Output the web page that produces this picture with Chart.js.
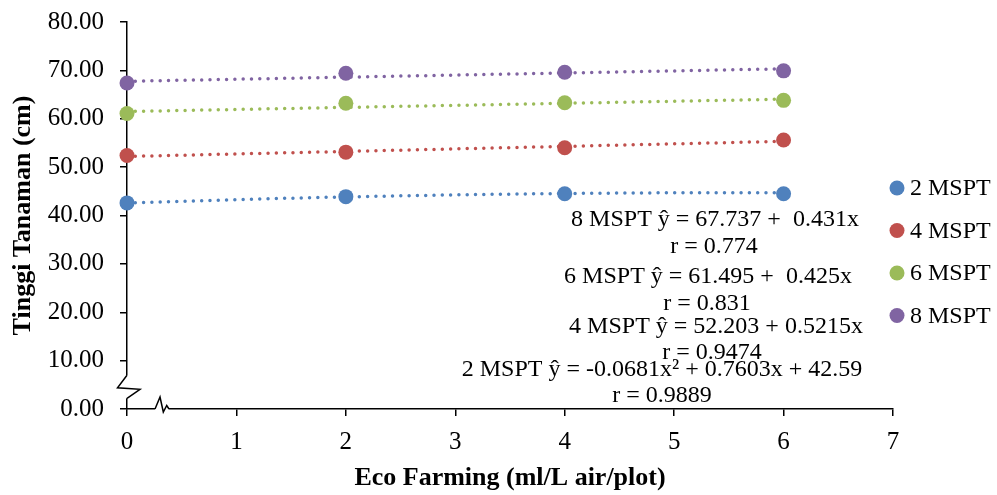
<!DOCTYPE html>
<html>
<head>
<meta charset="utf-8">
<title>Tinggi Tanaman</title>
<script src="https://cdn.jsdelivr.net/npm/chart.js@4.4.1/dist/chart.umd.min.js"></script>
<style>
  html, body { margin: 0; padding: 0; background: #fff; }
</style>
</head>
<body>
<canvas id="tinggiChart" width="997" height="495"></canvas>
<script>
// data
var dosis = [0, 2, 4, 6];
var mspt2 = [42.6, 43.9, 44.5, 44.5];
var mspt4 = [52.4, 53.1, 54.0, 55.6];
var mspt6 = [61.1, 63.2, 63.3, 63.8];
var mspt8 = [67.4, 69.4, 69.6, 69.9];

var namaSeri = ["2 MSPT", "4 MSPT", "6 MSPT", "8 MSPT"];
var warna = ["#4F81BD", "#C0504D", "#9BBB59", "#8064A2"];

// koefisien trendline [a, b, c] -> a + b*x + c*x^2 (dari persamaan di grafik)
var koef2 = [42.59, 0.7603, -0.0681];
var koef4 = [52.203, 0.5215, 0];
var koef6 = [61.495, 0.425, 0];
var koef8 = [67.737, 0.431, 0];
var trendX = [0, 1, 2, 3, 4, 5, 6];

var yTicks = [0, 10, 20, 30, 40, 50, 60, 70, 80];
var xTicks = [0, 1, 2, 3, 4, 5, 6, 7];

var persamaan = [
  "8 MSPT \u0177 = 67.737 +  0.431x",
  "r = 0.774",
  "6 MSPT \u0177 = 61.495 +  0.425x",
  "r = 0.831",
  "4 MSPT \u0177 = 52.203 + 0.5215x",
  "r = 0.9474",
  "2 MSPT \u0177 = -0.0681x\u00B2 + 0.7603x + 42.59",
  "r = 0.9889"
];

var FONT = "'Liberation Serif', 'Times New Roman', serif";

function titik(vals) {
  return dosis.map(function (x, i) { return { x: x, y: vals[i] }; });
}
function trend(k) {
  return trendX.map(function (x) { return { x: x, y: k[0] + k[1] * x + k[2] * x * x }; });
}

var seri = [mspt2, mspt4, mspt6, mspt8];
var koef = [koef2, koef4, koef6, koef8];
var datasets = [];
seri.forEach(function (vals, i) {
  datasets.push({
    label: namaSeri[i] + " trend",
    data: trend(koef[i]),
    showLine: true,
    borderColor: warna[i],
    borderWidth: 3.5,
    borderDash: [0, 8.3],
    borderCapStyle: "round",
    cubicInterpolationMode: "monotone",
    pointRadius: 0,
    clip: false,
    order: 2
  });
  datasets.push({
    label: namaSeri[i],
    data: titik(vals),
    backgroundColor: warna[i],
    borderColor: warna[i],
    pointRadius: 7.5,
    pointBorderWidth: 0,
    clip: false,
    order: 1
  });
});

// legenda, persamaan dan tanda patahan sumbu
var extras = {
  id: "extras",
  afterDraw: function (chart) {
    var ctx = chart.ctx;
    var xs = chart.scales.x, ys = chart.scales.y;
    ctx.save();

    // patahan sumbu y
    var x0 = xs.getPixelForValue(0);
    var yb = ys.getPixelForValue(4.7);
    ctx.fillStyle = "#fff";
    ctx.fillRect(x0 - 3, yb - 11, 6, 23);
    ctx.strokeStyle = "#000";
    ctx.lineWidth = 1.5;
    ctx.beginPath();
    ctx.moveTo(x0, yb - 11);
    ctx.lineTo(x0 - 9.5, yb + 1.5);
    ctx.lineTo(x0 + 13, yb + 3);
    ctx.lineTo(x0, yb + 12);
    ctx.stroke();

    // patahan sumbu x
    var y0 = ys.getPixelForValue(0);
    var xb = xs.getPixelForValue(0.32);
    ctx.fillStyle = "#fff";
    ctx.fillRect(xb - 7, y0 - 2, 14, 4);
    ctx.beginPath();
    ctx.moveTo(xb - 7, y0);
    ctx.lineTo(xb - 2, y0 - 12);
    ctx.lineTo(xb + 1.3, y0 + 3);
    ctx.lineTo(xb + 4.7, y0 - 3.5);
    ctx.lineTo(xb + 7, y0);
    ctx.stroke();

    // persamaan regresi
    ctx.fillStyle = "#000";
    ctx.font = "24px " + FONT;
    ctx.textAlign = "center";
    ctx.textBaseline = "middle";
    var posX = [715, 714, 708, 707, 716, 712, 662, 662];
    var posY = [220, 247, 277, 304, 327, 353, 370, 396];
    persamaan.forEach(function (t, i) { ctx.fillText(t, posX[i], posY[i]); });

    // legenda
    ctx.textAlign = "left";
    namaSeri.forEach(function (n, i) {
      var ly = 188 + i * 42.5;
      ctx.fillStyle = warna[i];
      ctx.beginPath();
      ctx.arc(897, ly, 7.5, 0, Math.PI * 2);
      ctx.fill();
      ctx.fillStyle = "#000";
      ctx.fillText(n, 910, ly + 1);
    });
    ctx.restore();
  }
};

var ctx = document.getElementById("tinggiChart").getContext("2d");
var chart = new Chart(ctx, {
  type: "scatter",
  data: { datasets: datasets },
  options: {
    responsive: false,
    animation: false,
    devicePixelRatio: 1,
    layout: { padding: { top: 22, right: 104, left: 0, bottom: 0 } },
    plugins: {
      legend: { display: false },
      tooltip: { enabled: false }
    },
    scales: {
      x: {
        type: "linear",
        min: 0,
        max: 7,
        afterBuildTicks: function (s) { s.ticks = xTicks.map(function (v) { return { value: v }; }); },
        afterFit: function (s) { s.height = 86; s.paddingLeft = 0; s.paddingRight = 0; },
        ticks: { color: "#000", font: { family: FONT, size: 25 }, padding: 11, maxRotation: 0 },
        grid: { drawOnChartArea: false, drawTicks: true, tickLength: 7, color: "#000", lineWidth: 1.5 },
        border: { display: true, color: "#000", width: 1.5 },
        title: {
          display: true,
          text: "Eco Farming (ml/L air/plot)",
          color: "#000",
          font: { family: FONT, size: 26, weight: "bold" },
          padding: { top: 0, bottom: 1 }
        }
      },
      y: {
        min: 0,
        max: 80,
        afterBuildTicks: function (s) { s.ticks = yTicks.map(function (v) { return { value: v }; }); },
        afterFit: function (s) { s.width = 127; s.paddingTop = 0; s.paddingBottom = 0; },
        ticks: {
          color: "#000",
          font: { family: FONT, size: 25 },
          padding: 16,
          callback: function (v) { return v.toFixed(2); }
        },
        grid: { drawOnChartArea: false, drawTicks: true, tickLength: 7, color: "#000", lineWidth: 1.5 },
        border: { display: true, color: "#000", width: 1.5 },
        title: {
          display: true,
          text: "Tinggi Tanaman (cm)",
          color: "#000",
          font: { family: FONT, size: 26, weight: "bold" },
          padding: { top: 8, bottom: 0 }
        }
      }
    }
  },
  plugins: [extras]
});
</script>
</body>
</html>
